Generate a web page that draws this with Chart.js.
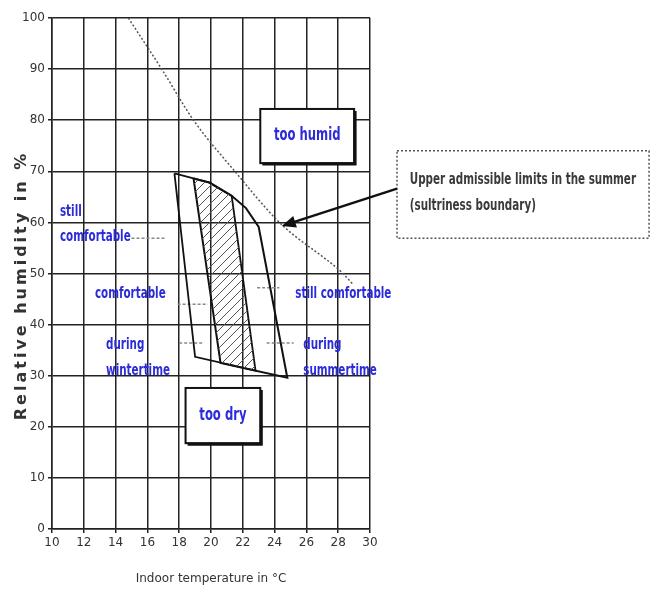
<!DOCTYPE html>
<html>
<head>
<meta charset="utf-8">
<script src="https://cdn.jsdelivr.net/npm/chart.js@4"></script>
<style>
html, body { margin: 0; padding: 0; background: #fff; }
#wrap { width: 655px; height: 594px; }
</style>
</head>
<body>
<div id="wrap"><canvas id="comfort-chart" width="655" height="594"></canvas></div>
<script>
// Comfort zones: indoor temperature vs relative humidity
const tempTicks = ['10', '12', '14', '16', '18', '20', '22', '24', '26', '28', '30'];
const humidityTicks = ['0', '10', '20', '30', '40', '50', '60', '70', '80', '90', '100'];

// comfortable during wintertime
const winterTemp = [17.7, 18.9, 19.9, 21.3, 22.8, 19.0, 17.7];
const winterRH   = [69.6, 68.6, 67.8, 65.2, 31.0, 33.7, 69.6];

// comfortable during summertime
const summerTemp = [18.9, 19.9, 21.3, 22.2, 23.0, 24.8, 20.6, 18.9];
const summerRH   = [68.6, 67.8, 65.2, 62.8, 59.1, 29.6, 32.5, 68.6];

// overlap of both (hatched)
const overlapTemp = [18.9, 19.9, 21.3, 22.8, 20.6, 18.9];
const overlapRH   = [68.6, 67.8, 65.2, 31.0, 32.5, 68.6];

// upper admissible limit in summer (sultriness boundary)
const sultryTemp = [14.8, 16.9, 18.9, 21.5, 24.3, 28.3, 28.9];
const sultryRH   = [100, 90, 80, 70, 60, 50, 48];

// short leader lines from labels to zones (null = gap)
const leaderTemp = [15.0, 17.2, null, 17.9, 19.8, null, 18.0, 19.5, null, 22.9, 24.3, null, 23.5, 25.2];
const leaderRH   = [56.9, 56.9, null, 44.0, 44.0, null, 36.4, 36.4, null, 47.2, 47.2, null, 36.4, 36.4];

const family = "'DejaVu Sans', 'Liberation Sans', sans-serif";
const blue = '#2b2bd9';

function toPoints(xs, ys) {
    return xs.map((t, i) => (t === null ? { x: null, y: null } : { x: t, y: ys[i] }));
}

function makeHatch() {
    const c = document.createElement('canvas');
    c.width = 9;
    c.height = 9;
    const g = c.getContext('2d');
    g.strokeStyle = '#555';
    g.lineWidth = 1;
    g.beginPath();
    g.moveTo(0, 9); g.lineTo(9, 0);
    g.moveTo(-2, 2); g.lineTo(2, -2);
    g.moveTo(7, 11); g.lineTo(11, 7);
    g.stroke();
    return g.createPattern(c, 'repeat');
}

// narrow bold text: condensed face squeezed a bit more horizontally
function narrowText(ctx, text, px, py, size, sx, align, color) {
    ctx.save();
    ctx.font = 'bold condensed ' + size + 'px ' + family;
    if ('fontStretch' in ctx) ctx.fontStretch = 'condensed';
    ctx.fillStyle = color;
    ctx.textAlign = align;
    ctx.textBaseline = 'middle';
    ctx.translate(px, py);
    ctx.scale(sx, 1);
    ctx.fillText(text, 0, 0);
    ctx.restore();
}

// labels placed in data units (temperature, humidity)
const boxes = [
    { text: 'too humid', t0: 23.1, t1: 29.0, v0: 71.6, v1: 82.2 },
    { text: 'too dry', t0: 18.4, t1: 23.1, v0: 16.8, v1: 27.6 }
];
const zoneLabels = [
    { text: 'still', t: 10.5, v: 62.0 },
    { text: 'comfortable', t: 10.5, v: 57.1 },
    { text: 'comfortable', t: 12.7, v: 46.0 },
    { text: 'during', t: 13.4, v: 36.0 },
    { text: 'wintertime', t: 13.4, v: 30.9 },
    { text: 'still comfortable', t: 25.3, v: 46.0 },
    { text: 'during', t: 25.8, v: 36.0 },
    { text: 'summertime', t: 25.8, v: 30.9 }
];
const callout = {
    lines: ['Upper admissible limits in the summer', '(sultriness boundary)'],
    t0: 31.7, t1: 47.55, v0: 56.9, v1: 74.0,
    textT: 32.5, textV: [68.3, 63.2],
    arrowFrom: [31.7, 66.6], arrowTo: [24.45, 59.3]
};

const annotations = {
    id: 'comfortAnnotations',
    afterDatasetsDraw(chart) {
        const { ctx, scales: { x, y } } = chart;
        ctx.save();

        // boxed region names
        boxes.forEach(b => {
            const l = x.getPixelForValue(b.t0), r = x.getPixelForValue(b.t1);
            const top = y.getPixelForValue(b.v1), bot = y.getPixelForValue(b.v0);
            ctx.fillStyle = '#fff';
            ctx.fillRect(l, top, r - l, bot - top);
            ctx.strokeStyle = '#111';
            ctx.lineWidth = 2;
            ctx.setLineDash([]);
            ctx.strokeRect(l, top, r - l, bot - top);
            ctx.lineWidth = 3;
            ctx.beginPath();
            ctx.moveTo(l + 2, bot + 1); ctx.lineTo(r + 1, bot + 1); ctx.lineTo(r + 1, top + 2);
            ctx.stroke();
            narrowText(ctx, b.text, (l + r) / 2, (top + bot) / 2, 17, 0.76, 'center', blue);
        });

        // zone labels
        zoneLabels.forEach(lb => {
            narrowText(ctx, lb.text, x.getPixelForValue(lb.t), y.getPixelForValue(lb.v), 16, 0.72, 'left', blue);
        });

        // callout box
        const cl = x.getPixelForValue(callout.t0), cr = x.getPixelForValue(callout.t1);
        const ct = y.getPixelForValue(callout.v1), cb = y.getPixelForValue(callout.v0);
        ctx.strokeStyle = '#555';
        ctx.lineWidth = 1.5;
        ctx.setLineDash([2, 2]);
        ctx.strokeRect(cl, ct, cr - cl, cb - ct);
        ctx.setLineDash([]);
        callout.lines.forEach((line, i) => {
            narrowText(ctx, line, x.getPixelForValue(callout.textT), y.getPixelForValue(callout.textV[i]), 16, 0.72, 'left', '#3a3a3a');
        });

        // arrow to the sultriness boundary
        const ax0 = x.getPixelForValue(callout.arrowFrom[0]), ay0 = y.getPixelForValue(callout.arrowFrom[1]);
        const ax1 = x.getPixelForValue(callout.arrowTo[0]), ay1 = y.getPixelForValue(callout.arrowTo[1]);
        const ang = Math.atan2(ay1 - ay0, ax1 - ax0);
        ctx.strokeStyle = '#111';
        ctx.lineWidth = 2.5;
        ctx.beginPath();
        ctx.moveTo(ax0, ay0);
        ctx.lineTo(ax1 - 10 * Math.cos(ang), ay1 - 10 * Math.sin(ang));
        ctx.stroke();
        ctx.fillStyle = '#111';
        ctx.beginPath();
        ctx.moveTo(ax1, ay1);
        ctx.lineTo(ax1 - 14 * Math.cos(ang) + 6 * Math.sin(ang), ay1 - 14 * Math.sin(ang) - 6 * Math.cos(ang));
        ctx.lineTo(ax1 - 14 * Math.cos(ang) - 6 * Math.sin(ang), ay1 - 14 * Math.sin(ang) + 6 * Math.cos(ang));
        ctx.closePath();
        ctx.fill();

        // y axis title, letter-spaced like the scan
        ctx.save();
        ctx.translate(22, (chart.chartArea.top + chart.chartArea.bottom) / 2 + 12);
        ctx.rotate(-Math.PI / 2);
        ctx.font = 'bold 16px ' + family;
        if ('letterSpacing' in ctx) ctx.letterSpacing = '3px';
        ctx.fillStyle = '#333';
        ctx.textAlign = 'center';
        ctx.textBaseline = 'middle';
        ctx.fillText('Relative humidity in %', 0, 0);
        ctx.restore();

        ctx.restore();
    }
};

const ctx = document.getElementById('comfort-chart').getContext('2d');

new Chart(ctx, {
    type: 'scatter',
    data: {
        datasets: [
            {
                label: 'overlap',
                data: toPoints(overlapTemp, overlapRH),
                showLine: true,
                fill: 'shape',
                backgroundColor: makeHatch(),
                borderWidth: 0,
                pointRadius: 0
            },
            {
                label: 'winter',
                data: toPoints(winterTemp, winterRH),
                showLine: true,
                borderColor: '#111',
                borderWidth: 1.8,
                pointRadius: 0
            },
            {
                label: 'summer',
                data: toPoints(summerTemp, summerRH),
                showLine: true,
                borderColor: '#111',
                borderWidth: 2,
                pointRadius: 0
            },
            {
                label: 'sultriness boundary',
                data: toPoints(sultryTemp, sultryRH),
                showLine: true,
                borderColor: '#555',
                borderWidth: 1.5,
                borderDash: [2, 2],
                cubicInterpolationMode: 'monotone',
                pointRadius: 0
            },
            {
                label: 'leaders',
                data: toPoints(leaderTemp, leaderRH),
                showLine: true,
                spanGaps: false,
                borderColor: '#888',
                borderWidth: 1.5,
                borderDash: [3, 2],
                pointRadius: 0
            }
        ]
    },
    options: {
        responsive: false,
        animation: false,
        events: [],
        layout: { padding: { left: 4, right: 285, top: 18, bottom: 4 } },
        plugins: {
            legend: { display: false },
            tooltip: { enabled: false }
        },
        scales: {
            x: {
                type: 'linear',
                min: 10,
                max: 30,
                afterFit: s => { s.height = 61; },
                ticks: {
                    stepSize: 2,
                    color: '#333',
                    font: { family: family, size: 12 },
                    callback: (v, i) => tempTicks[i]
                },
                grid: { color: '#222', lineWidth: 1.5, tickLength: 4 },
                border: { color: '#222', width: 1.5 },
                title: {
                    display: true,
                    text: 'Indoor temperature in °C',
                    color: '#333',
                    font: { family: family, size: 12 },
                    padding: { top: 10 }
                }
            },
            y: {
                min: 0,
                max: 100,
                afterFit: s => { s.width = 48; },
                ticks: {
                    stepSize: 10,
                    color: '#333',
                    font: { family: family, size: 12 },
                    callback: (v, i) => humidityTicks[i]
                },
                grid: { color: '#222', lineWidth: 1.5, tickLength: 4 },
                border: { color: '#222', width: 1.5 }
            }
        }
    },
    plugins: [annotations]
});
</script>
</body>
</html>
